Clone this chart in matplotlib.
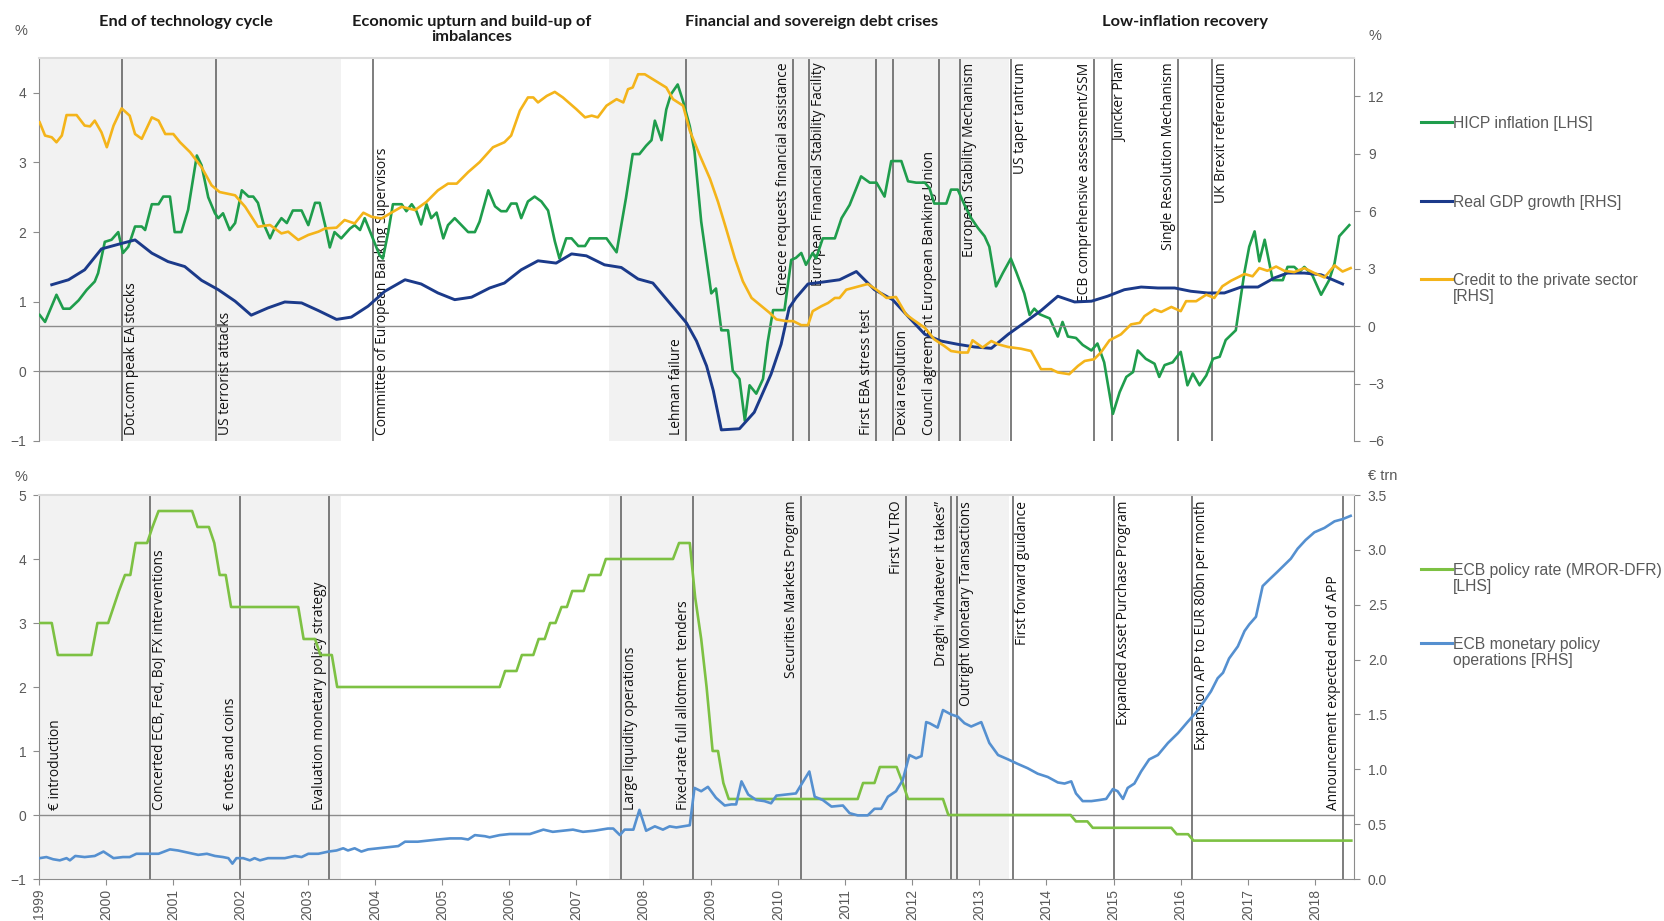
import numpy as np
import matplotlib.pyplot as plt
from matplotlib.lines import Line2D
from matplotlib.transforms import blended_transform_factory, offset_copy

# ---------------- data ----------------
# HICP inflation, % (LHS, top panel)
hicp_t = [1999.01, 1999.09, 1999.26, 1999.36, 1999.46, 1999.59, 1999.71, 1999.83, 1999.88, 1999.98,
          2000.08, 2000.18, 2000.25, 2000.33, 2000.43, 2000.53, 2000.58, 2000.68, 2000.78, 2000.85,
          2000.95, 2001.02, 2001.12, 2001.22, 2001.35, 2001.42, 2001.52, 2001.62, 2001.67, 2001.74,
          2001.84, 2001.92, 2002.02, 2002.12, 2002.19, 2002.26, 2002.34, 2002.44, 2002.51, 2002.61,
          2002.69, 2002.78, 2002.91, 2003.01, 2003.11, 2003.18, 2003.26, 2003.33, 2003.40, 2003.50,
          2003.63, 2003.70, 2003.78, 2003.85, 2003.95, 2004.07, 2004.12, 2004.20, 2004.27, 2004.40,
          2004.47, 2004.55, 2004.62, 2004.69, 2004.77, 2004.84, 2004.92, 2005.02, 2005.09, 2005.19,
          2005.29, 2005.39, 2005.49, 2005.56, 2005.69, 2005.79, 2005.88, 2005.96, 2006.03, 2006.11,
          2006.18, 2006.28, 2006.38, 2006.48, 2006.58, 2006.68, 2006.75, 2006.85, 2006.93, 2007.03,
          2007.13, 2007.20, 2007.45, 2007.60, 2007.74, 2007.84, 2007.94, 2008.04, 2008.12, 2008.17,
          2008.27, 2008.34, 2008.41, 2008.51, 2008.59, 2008.69, 2008.76, 2008.86, 2009.01, 2009.08,
          2009.16, 2009.26, 2009.33, 2009.43, 2009.51, 2009.58, 2009.68, 2009.78, 2009.85, 2009.93,
          2010.10, 2010.20, 2010.27, 2010.35, 2010.42, 2010.52, 2010.57, 2010.67, 2010.85, 2010.95,
          2011.07, 2011.24, 2011.37, 2011.47, 2011.59, 2011.69, 2011.84, 2011.94, 2012.06, 2012.19,
          2012.26, 2012.33, 2012.51, 2012.58, 2012.68, 2012.78, 2012.88, 2012.98, 2013.08, 2013.15,
          2013.25, 2013.35, 2013.47, 2013.55, 2013.67, 2013.75, 2013.82, 2013.90, 2014.05, 2014.17,
          2014.24, 2014.32, 2014.44, 2014.54, 2014.67, 2014.76, 2014.86, 2014.99, 2015.09, 2015.19,
          2015.29, 2015.36, 2015.48, 2015.61, 2015.68, 2015.76, 2015.88, 2016.00, 2016.10, 2016.18,
          2016.28, 2016.38, 2016.48, 2016.58, 2016.67, 2016.82, 2016.95, 2017.02, 2017.10, 2017.17,
          2017.25, 2017.37, 2017.52, 2017.59, 2017.69, 2017.77, 2017.84, 2017.96, 2018.09, 2018.21,
          2018.29, 2018.36, 2018.51]
hicp_v = [0.81, 0.71, 1.10, 0.90, 0.90, 1.02, 1.17, 1.29, 1.41, 1.86,
          1.89, 2.00, 1.70, 1.79, 2.08, 2.08, 2.03, 2.40, 2.40, 2.51,
          2.51, 2.00, 2.00, 2.32, 3.10, 2.96, 2.50, 2.27, 2.20, 2.27,
          2.03, 2.13, 2.60, 2.51, 2.51, 2.42, 2.13, 1.91, 2.06, 2.20,
          2.13, 2.31, 2.31, 2.10, 2.42, 2.42, 2.10, 1.78, 2.00, 1.91,
          2.05, 2.10, 2.03, 2.20, 1.96, 1.67, 1.62, 2.00, 2.40, 2.40,
          2.30, 2.40, 2.30, 2.11, 2.40, 2.20, 2.28, 1.91, 2.10, 2.20,
          2.10, 2.00, 2.00, 2.15, 2.60, 2.37, 2.30, 2.30, 2.41, 2.41,
          2.20, 2.44, 2.51, 2.44, 2.31, 1.87, 1.62, 1.91, 1.91, 1.80,
          1.80, 1.91, 1.91, 1.71, 2.49, 3.12, 3.12, 3.24, 3.32, 3.60,
          3.32, 3.76, 3.98, 4.12, 3.88, 3.52, 3.16, 2.15, 1.12, 1.19,
          0.59, 0.59, 0.01, -0.11, -0.71, -0.20, -0.32, -0.11, 0.42, 0.88,
          0.88, 1.60, 1.63, 1.70, 1.53, 1.70, 1.62, 1.91, 1.91, 2.20,
          2.39, 2.80, 2.71, 2.71, 2.51, 3.02, 3.02, 2.73, 2.71, 2.71,
          2.63, 2.41, 2.41, 2.61, 2.61, 2.39, 2.20, 2.06, 1.94, 1.79,
          1.22, 1.41, 1.62, 1.43, 1.12, 0.81, 0.90, 0.82, 0.76, 0.50,
          0.71, 0.50, 0.48, 0.38, 0.30, 0.40, 0.13, -0.61, -0.30, -0.08,
          -0.01, 0.30, 0.18, 0.11, -0.08, 0.09, 0.13, 0.28, -0.20, -0.03,
          -0.20, -0.06, 0.18, 0.21, 0.45, 0.59, 1.43, 1.79, 2.01, 1.58,
          1.89, 1.31, 1.31, 1.50, 1.50, 1.43, 1.50, 1.38, 1.10, 1.31,
          1.55, 1.94, 2.10]

# Real GDP growth, % (RHS, top panel)
gdp_t = [1999.19, 1999.44, 1999.68, 1999.93, 2000.18, 2000.43, 2000.68, 2000.92, 2001.17, 2001.42,
         2001.67, 2001.92, 2002.16, 2002.41, 2002.66, 2002.91, 2003.16, 2003.43, 2003.65, 2003.90,
         2004.15, 2004.45, 2004.69, 2004.94, 2005.19, 2005.44, 2005.71, 2005.93, 2006.18, 2006.43,
         2006.70, 2006.93, 2007.15, 2007.42, 2007.67, 2007.92, 2008.14, 2008.39, 2008.64, 2008.79,
         2008.94, 2009.04, 2009.16, 2009.43, 2009.65, 2009.90, 2010.05, 2010.17, 2010.27, 2010.45,
         2010.67, 2010.92, 2011.17, 2011.44, 2011.71, 2011.96, 2012.19, 2012.43, 2012.68, 2012.93,
         2013.18, 2013.43, 2013.67, 2013.92, 2014.17, 2014.42, 2014.67, 2014.91, 2015.16, 2015.41,
         2015.66, 2015.91, 2016.15, 2016.40, 2016.65, 2016.90, 2017.15, 2017.39, 2017.59, 2017.84,
         2018.09, 2018.41]
gdp_v = [2.16, 2.42, 2.94, 4.03, 4.27, 4.50, 3.81, 3.37, 3.11, 2.39,
         1.90, 1.30, 0.57, 0.95, 1.26, 1.21, 0.81, 0.35, 0.47, 1.04,
         1.82, 2.42, 2.20, 1.73, 1.38, 1.51, 1.99, 2.25, 2.94, 3.41,
         3.29, 3.77, 3.67, 3.20, 3.06, 2.46, 2.25, 1.21, 0.17, -0.78,
         -2.08, -3.37, -5.42, -5.36, -4.50, -2.51, -0.95, 0.95, 1.47, 2.20,
         2.30, 2.42, 2.85, 1.90, 1.38, 0.43, -0.43, -0.78, -0.95, -1.09,
         -1.16, -0.43, 0.17, 0.81, 1.56, 1.26, 1.30, 1.56, 1.90, 2.04,
         1.99, 1.99, 1.82, 1.73, 1.73, 2.04, 2.04, 2.51, 2.77, 2.77,
         2.68, 2.20]

# Credit to the private sector, % (RHS, top panel)
credit_t = [1999.01, 1999.09, 1999.19, 1999.26, 1999.34, 1999.41, 1999.56, 1999.68, 1999.76, 1999.83,
            1999.93, 2000.01, 2000.11, 2000.23, 2000.35, 2000.43, 2000.53, 2000.68, 2000.78, 2000.88,
            2001.00, 2001.10, 2001.25, 2001.42, 2001.57, 2001.69, 2001.92, 2002.07, 2002.26, 2002.44,
            2002.61, 2002.71, 2002.86, 2003.01, 2003.16, 2003.26, 2003.43, 2003.55, 2003.70, 2003.83,
            2003.95, 2004.10, 2004.27, 2004.40, 2004.60, 2004.77, 2004.94, 2005.09, 2005.22, 2005.39,
            2005.56, 2005.76, 2005.93, 2006.03, 2006.16, 2006.28, 2006.36, 2006.43, 2006.56, 2006.68,
            2006.80, 2007.00, 2007.13, 2007.23, 2007.32, 2007.45, 2007.60, 2007.70, 2007.77, 2007.84,
            2007.92, 2008.02, 2008.14, 2008.34, 2008.44, 2008.59, 2008.69, 2008.84, 2008.99, 2009.11,
            2009.23, 2009.36, 2009.48, 2009.61, 2009.73, 2009.88, 2009.98, 2010.13, 2010.23, 2010.35,
            2010.45, 2010.52, 2010.65, 2010.75, 2010.85, 2010.92, 2011.02, 2011.17, 2011.34, 2011.47,
            2011.62, 2011.76, 2011.91, 2012.01, 2012.19, 2012.33, 2012.48, 2012.58, 2012.73, 2012.83,
            2012.90, 2013.05, 2013.18, 2013.28, 2013.43, 2013.62, 2013.77, 2013.92, 2014.07, 2014.17,
            2014.34, 2014.47, 2014.57, 2014.71, 2014.81, 2014.94, 2015.11, 2015.26, 2015.39, 2015.46,
            2015.61, 2015.71, 2015.86, 2016.00, 2016.08, 2016.23, 2016.38, 2016.50, 2016.62, 2016.75,
            2016.95, 2017.07, 2017.17, 2017.29, 2017.42, 2017.54, 2017.69, 2017.84, 2017.99, 2018.14,
            2018.29, 2018.41, 2018.53]
credit_v = [10.64, 9.95, 9.86, 9.60, 9.95, 11.02, 11.02, 10.47, 10.43, 10.73,
            10.12, 9.34, 10.47, 11.37, 10.99, 10.03, 9.78, 10.90, 10.73, 10.03,
            10.03, 9.60, 9.08, 8.30, 7.35, 7.00, 6.83, 6.23, 5.19, 5.28,
            4.84, 4.93, 4.50, 4.76, 4.93, 5.10, 5.14, 5.54, 5.36, 5.92,
            5.71, 5.62, 5.97, 6.23, 6.06, 6.49, 7.09, 7.44, 7.44, 8.04,
            8.56, 9.34, 9.60, 9.95, 11.25, 11.94, 11.94, 11.68, 12.02, 12.23,
            11.94, 11.33, 10.90, 10.99, 10.90, 11.51, 11.85, 11.68, 12.37, 12.46,
            13.15, 13.15, 12.89, 12.46, 11.85, 11.51, 10.21, 8.91, 7.70, 6.49,
            5.10, 3.55, 2.34, 1.47, 1.12, 0.69, 0.35, 0.26, 0.26, 0.05,
            0.05, 0.78, 1.04, 1.21, 1.47, 1.47, 1.90, 2.04, 2.20, 1.90,
            1.47, 1.52, 0.61, 0.35, -0.09, -0.69, -1.04, -1.30, -1.38, -1.38,
            -0.74, -1.12, -0.78, -0.95, -1.09, -1.18, -1.30, -2.25, -2.25, -2.42,
            -2.51, -2.08, -1.82, -1.73, -1.38, -0.74, -0.43, 0.09, 0.17, 0.52,
            0.87, 0.74, 1.00, 0.78, 1.30, 1.30, 1.64, 1.47, 2.08, 2.37,
            2.72, 2.60, 3.03, 2.89, 3.11, 2.89, 2.82, 3.03, 2.77, 2.54,
            3.17, 2.85, 3.03]

# ECB policy rate (MROR-DFR), % (LHS, bottom panel)
rate_t = [1999.00, 1999.19, 1999.28, 1999.78, 1999.87, 2000.03, 2000.11, 2000.19, 2000.28, 2000.36,
          2000.44, 2000.61, 2000.69, 2000.78, 2001.28, 2001.36, 2001.53, 2001.61, 2001.69, 2001.78,
          2001.86, 2002.86, 2002.94, 2003.11, 2003.19, 2003.36, 2003.44, 2005.86, 2005.94, 2006.11,
          2006.19, 2006.36, 2006.44, 2006.53, 2006.61, 2006.69, 2006.78, 2006.86, 2006.94, 2007.11,
          2007.19, 2007.36, 2007.44, 2008.44, 2008.53, 2008.69, 2008.77, 2008.86, 2008.94, 2009.03,
          2009.11, 2009.19, 2009.27, 2011.19, 2011.27, 2011.44, 2011.52, 2011.77, 2011.86, 2011.94,
          2012.46, 2012.54, 2014.36, 2014.44, 2014.61, 2014.69, 2015.86, 2015.94, 2016.11, 2016.19,
          2018.54]
rate_v = [3.00, 3.00, 2.50, 2.50, 3.00, 3.00, 3.25, 3.50, 3.75, 3.75,
          4.25, 4.25, 4.50, 4.75, 4.75, 4.50, 4.50, 4.25, 3.75, 3.75,
          3.25, 3.25, 2.75, 2.75, 2.50, 2.50, 2.00, 2.00, 2.25, 2.25,
          2.50, 2.50, 2.75, 2.75, 3.00, 3.00, 3.25, 3.25, 3.50, 3.50,
          3.75, 3.75, 4.00, 4.00, 4.25, 4.25, 3.40, 2.75, 2.00, 1.00,
          1.00, 0.50, 0.25, 0.25, 0.50, 0.50, 0.75, 0.75, 0.50, 0.25,
          0.25, 0.00, 0.00, -0.10, -0.10, -0.20, -0.20, -0.30, -0.30, -0.40,
          -0.40]

# ECB monetary policy operations, EUR trn (RHS, bottom panel)
ops_t = [1999.01, 1999.11, 1999.21, 1999.31, 1999.41, 1999.46, 1999.54, 1999.68, 1999.83, 1999.96,
         2000.11, 2000.25, 2000.35, 2000.45, 2000.60, 2000.78, 2000.95, 2001.07, 2001.22, 2001.37,
         2001.50, 2001.62, 2001.74, 2001.82, 2001.88, 2001.94, 2002.04, 2002.14, 2002.21, 2002.29,
         2002.41, 2002.54, 2002.66, 2002.81, 2002.91, 2003.01, 2003.16, 2003.31, 2003.43, 2003.53,
         2003.60, 2003.70, 2003.80, 2003.90, 2004.05, 2004.20, 2004.35, 2004.45, 2004.64, 2004.79,
         2004.94, 2005.12, 2005.29, 2005.39, 2005.49, 2005.64, 2005.71, 2005.86, 2006.01, 2006.16,
         2006.31, 2006.51, 2006.65, 2006.80, 2006.95, 2007.10, 2007.27, 2007.47, 2007.55, 2007.65,
         2007.72, 2007.85, 2007.94, 2008.04, 2008.17, 2008.29, 2008.39, 2008.49, 2008.59, 2008.69,
         2008.76, 2008.86, 2008.96, 2009.08, 2009.21, 2009.31, 2009.38, 2009.46, 2009.56, 2009.68,
         2009.80, 2009.90, 2009.98, 2010.13, 2010.27, 2010.35, 2010.47, 2010.55, 2010.67, 2010.80,
         2010.97, 2011.07, 2011.19, 2011.34, 2011.44, 2011.54, 2011.64, 2011.76, 2011.86, 2011.96,
         2012.06, 2012.14, 2012.21, 2012.26, 2012.38, 2012.46, 2012.58, 2012.68, 2012.78, 2012.88,
         2013.03, 2013.15, 2013.28, 2013.43, 2013.57, 2013.72, 2013.87, 2014.02, 2014.17, 2014.27,
         2014.37, 2014.44, 2014.54, 2014.67, 2014.79, 2014.89, 2014.99, 2015.06, 2015.14, 2015.21,
         2015.31, 2015.41, 2015.53, 2015.66, 2015.81, 2015.96, 2016.10, 2016.23, 2016.35, 2016.45,
         2016.55, 2016.63, 2016.72, 2016.85, 2016.95, 2017.02, 2017.12, 2017.22, 2017.32, 2017.44,
         2017.54, 2017.64, 2017.74, 2017.86, 2017.99, 2018.14, 2018.29, 2018.41, 2018.53]
ops_v = [0.19, 0.20, 0.18, 0.17, 0.19, 0.17, 0.21, 0.20, 0.21, 0.25,
         0.19, 0.20, 0.20, 0.23, 0.23, 0.23, 0.27, 0.26, 0.24, 0.22,
         0.23, 0.21, 0.20, 0.19, 0.14, 0.19, 0.19, 0.17, 0.19, 0.17,
         0.19, 0.19, 0.19, 0.21, 0.20, 0.23, 0.23, 0.25, 0.26, 0.28,
         0.26, 0.28, 0.25, 0.27, 0.28, 0.29, 0.30, 0.34, 0.34, 0.35,
         0.36, 0.37, 0.37, 0.36, 0.40, 0.39, 0.38, 0.40, 0.41, 0.41,
         0.41, 0.45, 0.43, 0.44, 0.45, 0.43, 0.44, 0.46, 0.46, 0.40,
         0.45, 0.45, 0.63, 0.44, 0.48, 0.45, 0.48, 0.47, 0.48, 0.49,
         0.83, 0.80, 0.84, 0.74, 0.67, 0.68, 0.68, 0.89, 0.77, 0.72,
         0.71, 0.69, 0.76, 0.77, 0.78, 0.86, 0.98, 0.75, 0.72, 0.66,
         0.67, 0.60, 0.58, 0.58, 0.64, 0.64, 0.75, 0.80, 0.90, 1.13,
         1.10, 1.12, 1.43, 1.42, 1.38, 1.54, 1.50, 1.48, 1.42, 1.39,
         1.43, 1.24, 1.13, 1.09, 1.05, 1.01, 0.96, 0.93, 0.88, 0.87,
         0.89, 0.78, 0.71, 0.71, 0.72, 0.73, 0.82, 0.80, 0.73, 0.83,
         0.87, 0.98, 1.09, 1.13, 1.24, 1.33, 1.43, 1.52, 1.62, 1.71,
         1.83, 1.88, 2.01, 2.12, 2.26, 2.32, 2.39, 2.67, 2.73, 2.80,
         2.86, 2.92, 3.01, 3.09, 3.16, 3.20, 3.26, 3.28, 3.31]

# shaded periods
shade_periods = [(1999.0, 2003.5), (2007.48, 2013.45)]

# events: date, label, side of line, anchored at top or bottom
top_events = [(2000.23, "Dot.com peak EA stocks", "right", "bottom"),
              (2001.64, "US terrorist attacks", "right", "bottom"),
              (2003.98, "Committee of European Banking Supervisors", "right", "bottom"),
              (2008.64, "Lehman failure", "left", "bottom"),
              (2010.23, "Greece requests financial assistance", "left", "top"),
              (2010.47, "European Financial Stability Facility", "right", "top"),
              (2011.47, "First EBA stress test", "left", "bottom"),
              (2011.71, "Dexia resolution", "right", "bottom"),
              (2012.40, "Council agreement European Banking Union", "left", "bottom"),
              (2012.71, "European Stability Mechanism", "right", "top"),
              (2013.47, "US taper tantrum", "right", "top"),
              (2014.71, "ECB comprehensive assessment/SSM", "left", "top"),
              (2014.97, "Juncker Plan", "right", "top"),
              (2015.96, "Single Resolution Mechanism", "left", "top"),
              (2016.46, "UK Brexit referendum", "right", "top")]

bottom_events = [(2000.66, "Concerted ECB, Fed, BoJ FX interventions", "right", "bottom"),
                 (2002.00, "€ notes and coins", "left", "bottom"),
                 (2003.32, "Evaluation monetary policy strategy", "left", "bottom"),
                 (2007.66, "Large liquidity operations", "right", "bottom"),
                 (2008.74, "Fixed-rate full allotment  tenders", "left", "bottom"),
                 (2010.34, "Securities Markets Program", "left", "top"),
                 (2011.91, "First VLTRO", "left", "top"),
                 (2012.58, "Draghi \u201cwhatever it takes\u201d", "left", "top"),
                 (2012.67, "Outright Monetary Transactions", "right", "top"),
                 (2013.50, "First forward guidance", "right", "top"),
                 (2015.00, "Expanded Asset Purchase Program", "right", "top"),
                 (2016.17, "Expansion APP to EUR 80bn per month", "right", "top"),
                 (2018.41, "Announcement expected end of APP", "left", "bottom")]

section_titles = ["End of technology cycle",
                  "Economic upturn and build-up of\nimbalances",
                  "Financial and sovereign debt crises",
                  "Low-inflation recovery"]
years = list(range(1999, 2019))

# ---------------- styling ----------------
c_hicp = "#1f9d4c"
c_gdp = "#1b3a8a"
c_credit = "#f4b41a"
c_rate = "#7dc143"
c_ops = "#5590d0"
grey_txt = "#595959"
line_grey = "#5a5a5a"
shade = "#f2f2f2"

plt.rcParams["font.family"] = ["Liberation Sans", "DejaVu Sans"]
lab_font = ["Open Sans", "DejaVu Sans"]
title_font = ["Lato", "DejaVu Sans"]

W, H = 1664, 921
fig = plt.figure(figsize=(W / 100, H / 100), dpi=100)


def fx(px):
    return px / W


def fy(py):
    return 1 - py / H


x0, x1 = 1999.0, 2018.58

ax1 = fig.add_axes([fx(39), fy(441), fx(1354) - fx(39), fy(58) - fy(441)])
ax1r = ax1.twinx()
ax2 = fig.add_axes([fx(39), fy(879), fx(1354) - fx(39), fy(495) - fy(879)])
ax2r = ax2.twinx()


def style_axes(ax, axr):
    ax.set_xlim(x0, x1)
    for s in ["top", "bottom", "left", "right"]:
        ax.spines[s].set_visible(False)
        axr.spines[s].set_visible(False)
    ax.spines["left"].set_visible(True)
    ax.spines["left"].set_color("#8c8c8c")
    axr.spines["right"].set_visible(True)
    axr.spines["right"].set_color("#8c8c8c")
    axr.spines["top"].set_visible(True)
    axr.spines["top"].set_color("#dcdcdc")
    axr.spines["top"].set_linewidth(1.5)
    ax.tick_params(axis="y", direction="out", length=4, color="#8c8c8c",
                   labelcolor=grey_txt, labelsize=10, pad=5)
    axr.tick_params(axis="y", direction="out", length=4, color="#8c8c8c",
                    labelcolor=grey_txt, labelsize=10, pad=6)
    for p0, p1 in shade_periods:
        ax.axvspan(p0, p1, color=shade, zorder=0, lw=0)


def add_events(ax, events, y_top, y_bot):
    trans = blended_transform_factory(ax.transData, ax.transAxes)
    for x, label, side, anchor in events:
        ax.axvline(x, color=line_grey, lw=1.1, zorder=1)
        dx = 2 if side == "right" else -2
        tr = offset_copy(trans, fig=fig, x=dx, y=0, units="dots")
        y = y_top if anchor == "top" else y_bot
        ax.text(x, y, label, transform=tr, rotation=90,
                ha="left" if side == "right" else "right",
                va="top" if anchor == "top" else "bottom",
                fontsize=9.9, family=lab_font, color="#111111", zorder=2)


# ---------------- top panel ----------------
style_axes(ax1, ax1r)
ax1.set_ylim(-1, 4.5)
ax1.set_yticks(range(-1, 5))
ax1r.set_ylim(-6, 14)
ax1r.set_yticks(range(-6, 13, 3))
ax1.tick_params(axis="x", bottom=False, labelbottom=False)
ax1.axhline(0, color="#8c8c8c", lw=1, zorder=1)
ax1r.axhline(0, color="#8c8c8c", lw=1, zorder=1)
add_events(ax1, top_events, 0.988, 0.015)
ax1.plot(hicp_t, hicp_v, color=c_hicp, lw=1.9, zorder=3)
ax1r.plot(gdp_t, gdp_v, color=c_gdp, lw=2.1, zorder=3)
ax1r.plot(credit_t, credit_v, color=c_credit, lw=1.9, zorder=3)

# ---------------- bottom panel ----------------
style_axes(ax2, ax2r)
ax2.set_ylim(-1, 5)
ax2.set_yticks(range(-1, 6))
ax2r.set_ylim(0, 3.5)
ax2r.set_yticks(np.arange(0, 3.51, 0.5))
ax2r.set_yticklabels([f"{v:.1f}" for v in np.arange(0, 3.51, 0.5)])
ax2.spines["bottom"].set_visible(True)
ax2.spines["bottom"].set_color("#8c8c8c")
ax2.set_xticks(years)
ax2.set_xticklabels([str(y) for y in years], rotation=90)
ax2.tick_params(axis="x", direction="out", length=4, color="#8c8c8c",
                labelcolor=grey_txt, labelsize=10, pad=3)
ax2.axhline(0, color="#8c8c8c", lw=1, zorder=1)
add_events(ax2, bottom_events, 0.985, 0.18)
ax2.text(1999.0, 0.18, "€ introduction", rotation=90, ha="left", va="bottom",
         transform=offset_copy(blended_transform_factory(ax2.transData, ax2.transAxes),
                               fig=fig, x=9, y=0, units="dots"),
         fontsize=9.9, family=lab_font, color="#111111")
ax2.plot(rate_t, rate_v, color=c_rate, lw=1.9, zorder=3)
ax2r.plot(ops_t, ops_v, color=c_ops, lw=1.9, zorder=3)

# ---------------- titles, units, legends ----------------
title_x = [186, 472, 812, 1185]
for tx, t in zip(title_x, section_titles):
    fig.text(fx(tx), fy(15), t, ha="center", va="top", fontsize=11.8,
             fontweight="bold", family=title_font, color="#1a1a1a", linespacing=1.1)

fig.text(fx(21), fy(31), "%", ha="center", va="center", fontsize=10.5, color=grey_txt)
fig.text(fx(1375), fy(36), "%", ha="center", va="center", fontsize=10.5, color=grey_txt)
fig.text(fx(21), fy(477), "%", ha="center", va="center", fontsize=10.5, color=grey_txt)
fig.text(fx(1368), fy(476), "€ trn", ha="left", va="center", fontsize=10.5, color=grey_txt)


def legend_entry(y, color, text):
    fig.add_artist(Line2D([fx(1421), fx(1452)], [fy(y), fy(y)], color=color, lw=2.2))
    fig.text(fx(1453), fy(y - 6), text, ha="left", va="top", fontsize=11.3,
             color=grey_txt, linespacing=1.1)


legend_entry(122, c_hicp, "HICP inflation [LHS]")
legend_entry(201, c_gdp, "Real GDP growth [RHS]")
legend_entry(279, c_credit, "Credit to the private sector\n[RHS]")
legend_entry(569, c_rate, "ECB policy rate (MROR-DFR)\n[LHS]")
legend_entry(643, c_ops, "ECB monetary policy\noperations [RHS]")

fig.savefig("out.png", dpi=100)
